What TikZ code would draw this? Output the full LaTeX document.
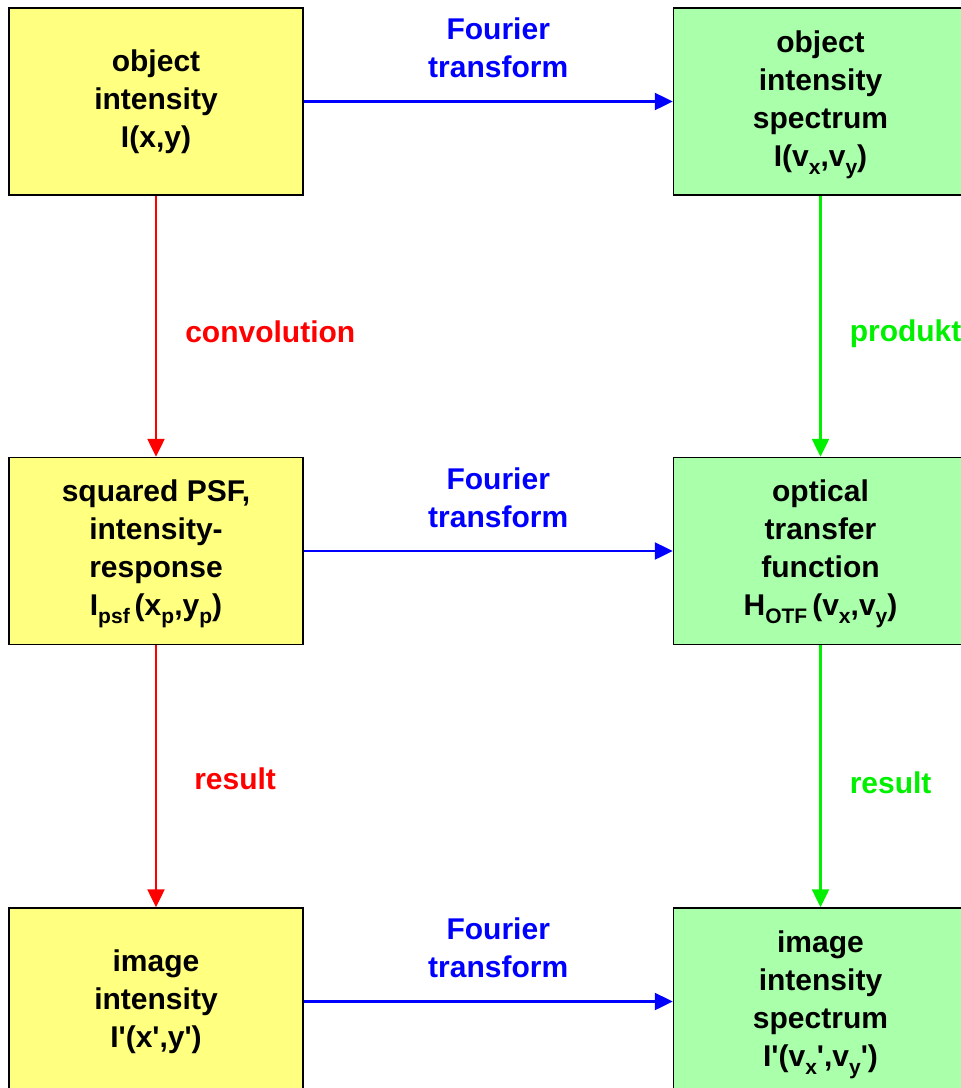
\documentclass[tikz,border=0pt]{standalone}
\usepackage{fontspec}
\newfontfamily\arialfam{Liberation Sans}
\usetikzlibrary{positioning,arrows.meta}
\definecolor{boxyellow}{RGB}{255,255,128}
\definecolor{boxgreen}{RGB}{170,255,170}
\definecolor{lblgreen}{RGB}{0,240,0}
% lowered subscript as in the slide
\newcommand{\lowsub}[1]{\raisebox{-4pt}[0pt][0pt]{\fontsize{10.5}{12}\selectfont #1}}

\begin{document}
\begin{tikzpicture}[
      box/.style={
        draw=black, line width=0.75pt, align=center,
        font=\arialfam\bfseries\fontsize{15}{19}\selectfont,
        minimum width=147pt, minimum height=93.5pt, inner sep=0pt
      },
      ybox/.style={box, fill=boxyellow},
      gbox/.style={box, fill=boxgreen},
      lbl/.style={align=center, font=\arialfam\bfseries\fontsize{15}{19}\selectfont, inner sep=2pt},
      flow/.style={line width=1.25pt, -{Triangle[length=9pt,width=8.5pt]}}
      ]

      \useasboundingbox (0,0) rectangle (480.5pt,-544pt);

      \node[ybox] at (78pt,-50.75pt) (objint) {object\\intensity\\I(x,y)};
      \node[gbox, right=184.5pt of objint] (objspec)
        {object\\intensity\\spectrum\\I(v\lowsub{x},v\lowsub{y})};
      \node[ybox, below=130.5pt of objint] (psf)
        {squared PSF,\\intensity-\\response\\I\lowsub{psf}\,(x\lowsub{p},y\lowsub{p})};
      \node[gbox, below=130.5pt of objspec] (otf)
        {optical\\transfer\\function\\H\lowsub{OTF}\,(v\lowsub{x},v\lowsub{y})};
      \node[ybox, below=131pt of psf] (imgint) {image\\intensity\\I'(x',y')};
      \node[gbox, below=131pt of otf] (imgspec)
        {image\\intensity\\spectrum\\I'(v\lowsub{x}',v\lowsub{y}')};

  % Fourier pairs
  \draw[flow, blue] (objint) -- node[lbl, above=9pt, xshift=5pt, blue] {Fourier\\transform} (objspec);
  \draw[flow, blue] (psf) -- node[lbl, above=9pt, xshift=5pt, blue] {Fourier\\transform} (otf);
  \draw[flow, blue] (imgint) -- node[lbl, above=9pt, xshift=5pt, blue] {Fourier\\transform} (imgspec);

  % space domain
  \draw[flow, red] (objint) -- node[lbl, right=12pt, yshift=-3pt, red] {convolution} (psf);
  \draw[flow, red] (psf) -- node[lbl, right=16.5pt, yshift=-1.5pt, red] {result} (imgint);

  % frequency domain
  \draw[flow, lblgreen] (objspec) -- node[lbl, right=12pt, yshift=-3.5pt, lblgreen] {produkt} (otf);
  \draw[flow, lblgreen] (otf) -- node[lbl, right=12pt, yshift=-3.5pt, lblgreen] {result} (imgspec);

\end{tikzpicture}
\end{document}
